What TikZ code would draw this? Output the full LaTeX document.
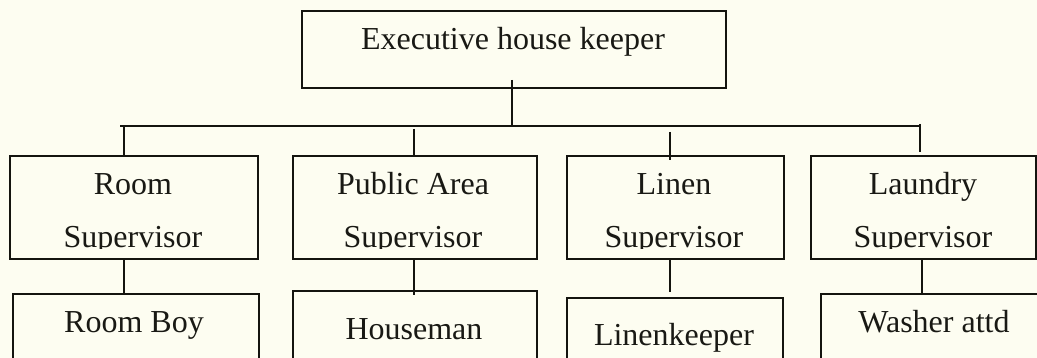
\documentclass[tikz,border=0pt]{standalone}
\usepackage{fontspec}
\setmainfont{Liberation Serif}
\definecolor{bgcol}{RGB}{253,253,241}
\definecolor{linecol}{RGB}{20,20,15}
\definecolor{textcol}{RGB}{25,25,20}
\begin{document}
\begin{tikzpicture}[x=1pt,y=-1pt,
  box/.style={draw=linecol,line width=1.9pt,inner sep=0pt,anchor=north west},
  lbl/.style={anchor=base,inner sep=0pt,font=\fontsize{32}{38}\selectfont,text=textcol},
  conn/.style={draw=linecol,line width=1.9pt}]
\useasboundingbox (0,0) rectangle (1037,358);
\fill[bgcol] (0,0) rectangle (1037,358);
\clip (0,0) rectangle (1037,358);
% boxes
\node[box,minimum width=424pt,minimum height=77pt] (exec) at (301,10) {};
\node[box,minimum width=248pt,minimum height=103pt] (rs) at (9,155) {};
\node[box,minimum width=244pt,minimum height=103pt] (ps) at (292,155) {};
\node[box,minimum width=217pt,minimum height=103pt] (ls) at (566,155) {};
\node[box,minimum width=225pt,minimum height=103pt] (lds) at (810,155) {};
\node[box,minimum width=246pt,minimum height=100pt] (rb) at (12,293) {};
\node[box,minimum width=244pt,minimum height=100pt] (hm) at (292,290) {};
\node[box,minimum width=216pt,minimum height=100pt] (lk) at (566,297) {};
\node[box,minimum width=240pt,minimum height=100pt] (wa) at (820,293) {};
% texts
\node[lbl] (texec) at (513,50) {Executive house keeper};
\node[lbl] (trs1) at (133,195) {Room};
\node[lbl] (tps1) at (413,195) {Public Area};
\node[lbl] (tls1) at (674,195) {Linen};
\node[lbl] (tlds1) at (923,195) {Laundry};
\begin{scope}
  \clip (0,0) rectangle (1037,249);
  \node[lbl] (trs2) at (133,248) {Supervisor};
  \node[lbl] (tps2) at (413,248) {Supervisor};
  \node[lbl] (tls2) at (674,248) {Supervisor};
  \node[lbl] (tlds2) at (923,248) {Supervisor};
\end{scope}
\node[lbl] (trb) at (134,333) {Room Boy};
\node[lbl] (thm) at (414,340) {Houseman};
\node[lbl] (tlk) at (674,345) {Linenkeeper};
\node[lbl] (twa) at (934,333) {Washer attd};
% connectors
\coordinate (e1) at (512,80);
\coordinate (e2) at (512,127);
\coordinate (busL) at (120,126);
\coordinate (busR) at (920,126);
\coordinate (d1) at (124,126);
\coordinate (d2) at (414,129);
\coordinate (d3) at (670,132);
\coordinate (d4) at (920,124);
\coordinate (d5) at (922,259);
\draw[conn] (e1) -- (e2);
\draw[conn] (busL) -- (busR);
\draw[conn] (d1) -- (d1 |- rs.north);
\draw[conn] (d2) -- ([yshift=-2pt]d2 |- ps.north);
\draw[conn] (d3) -- ([yshift=-5pt]d3 |- ls.north);
\draw[conn] (d4) -- ([yshift=3pt]d4 |- lds.north);
\draw[conn] (d1 |- rs.south) -- (d1 |- rb.north);
\draw[conn] (d2 |- ps.south) -- ([yshift=-5pt]d2 |- hm.north);
\draw[conn] (d3 |- ls.south) -- ([yshift=5pt]d3 |- lk.north);
\draw[conn] (d5) -- (d5 |- wa.north);
\end{tikzpicture}
\end{document}
